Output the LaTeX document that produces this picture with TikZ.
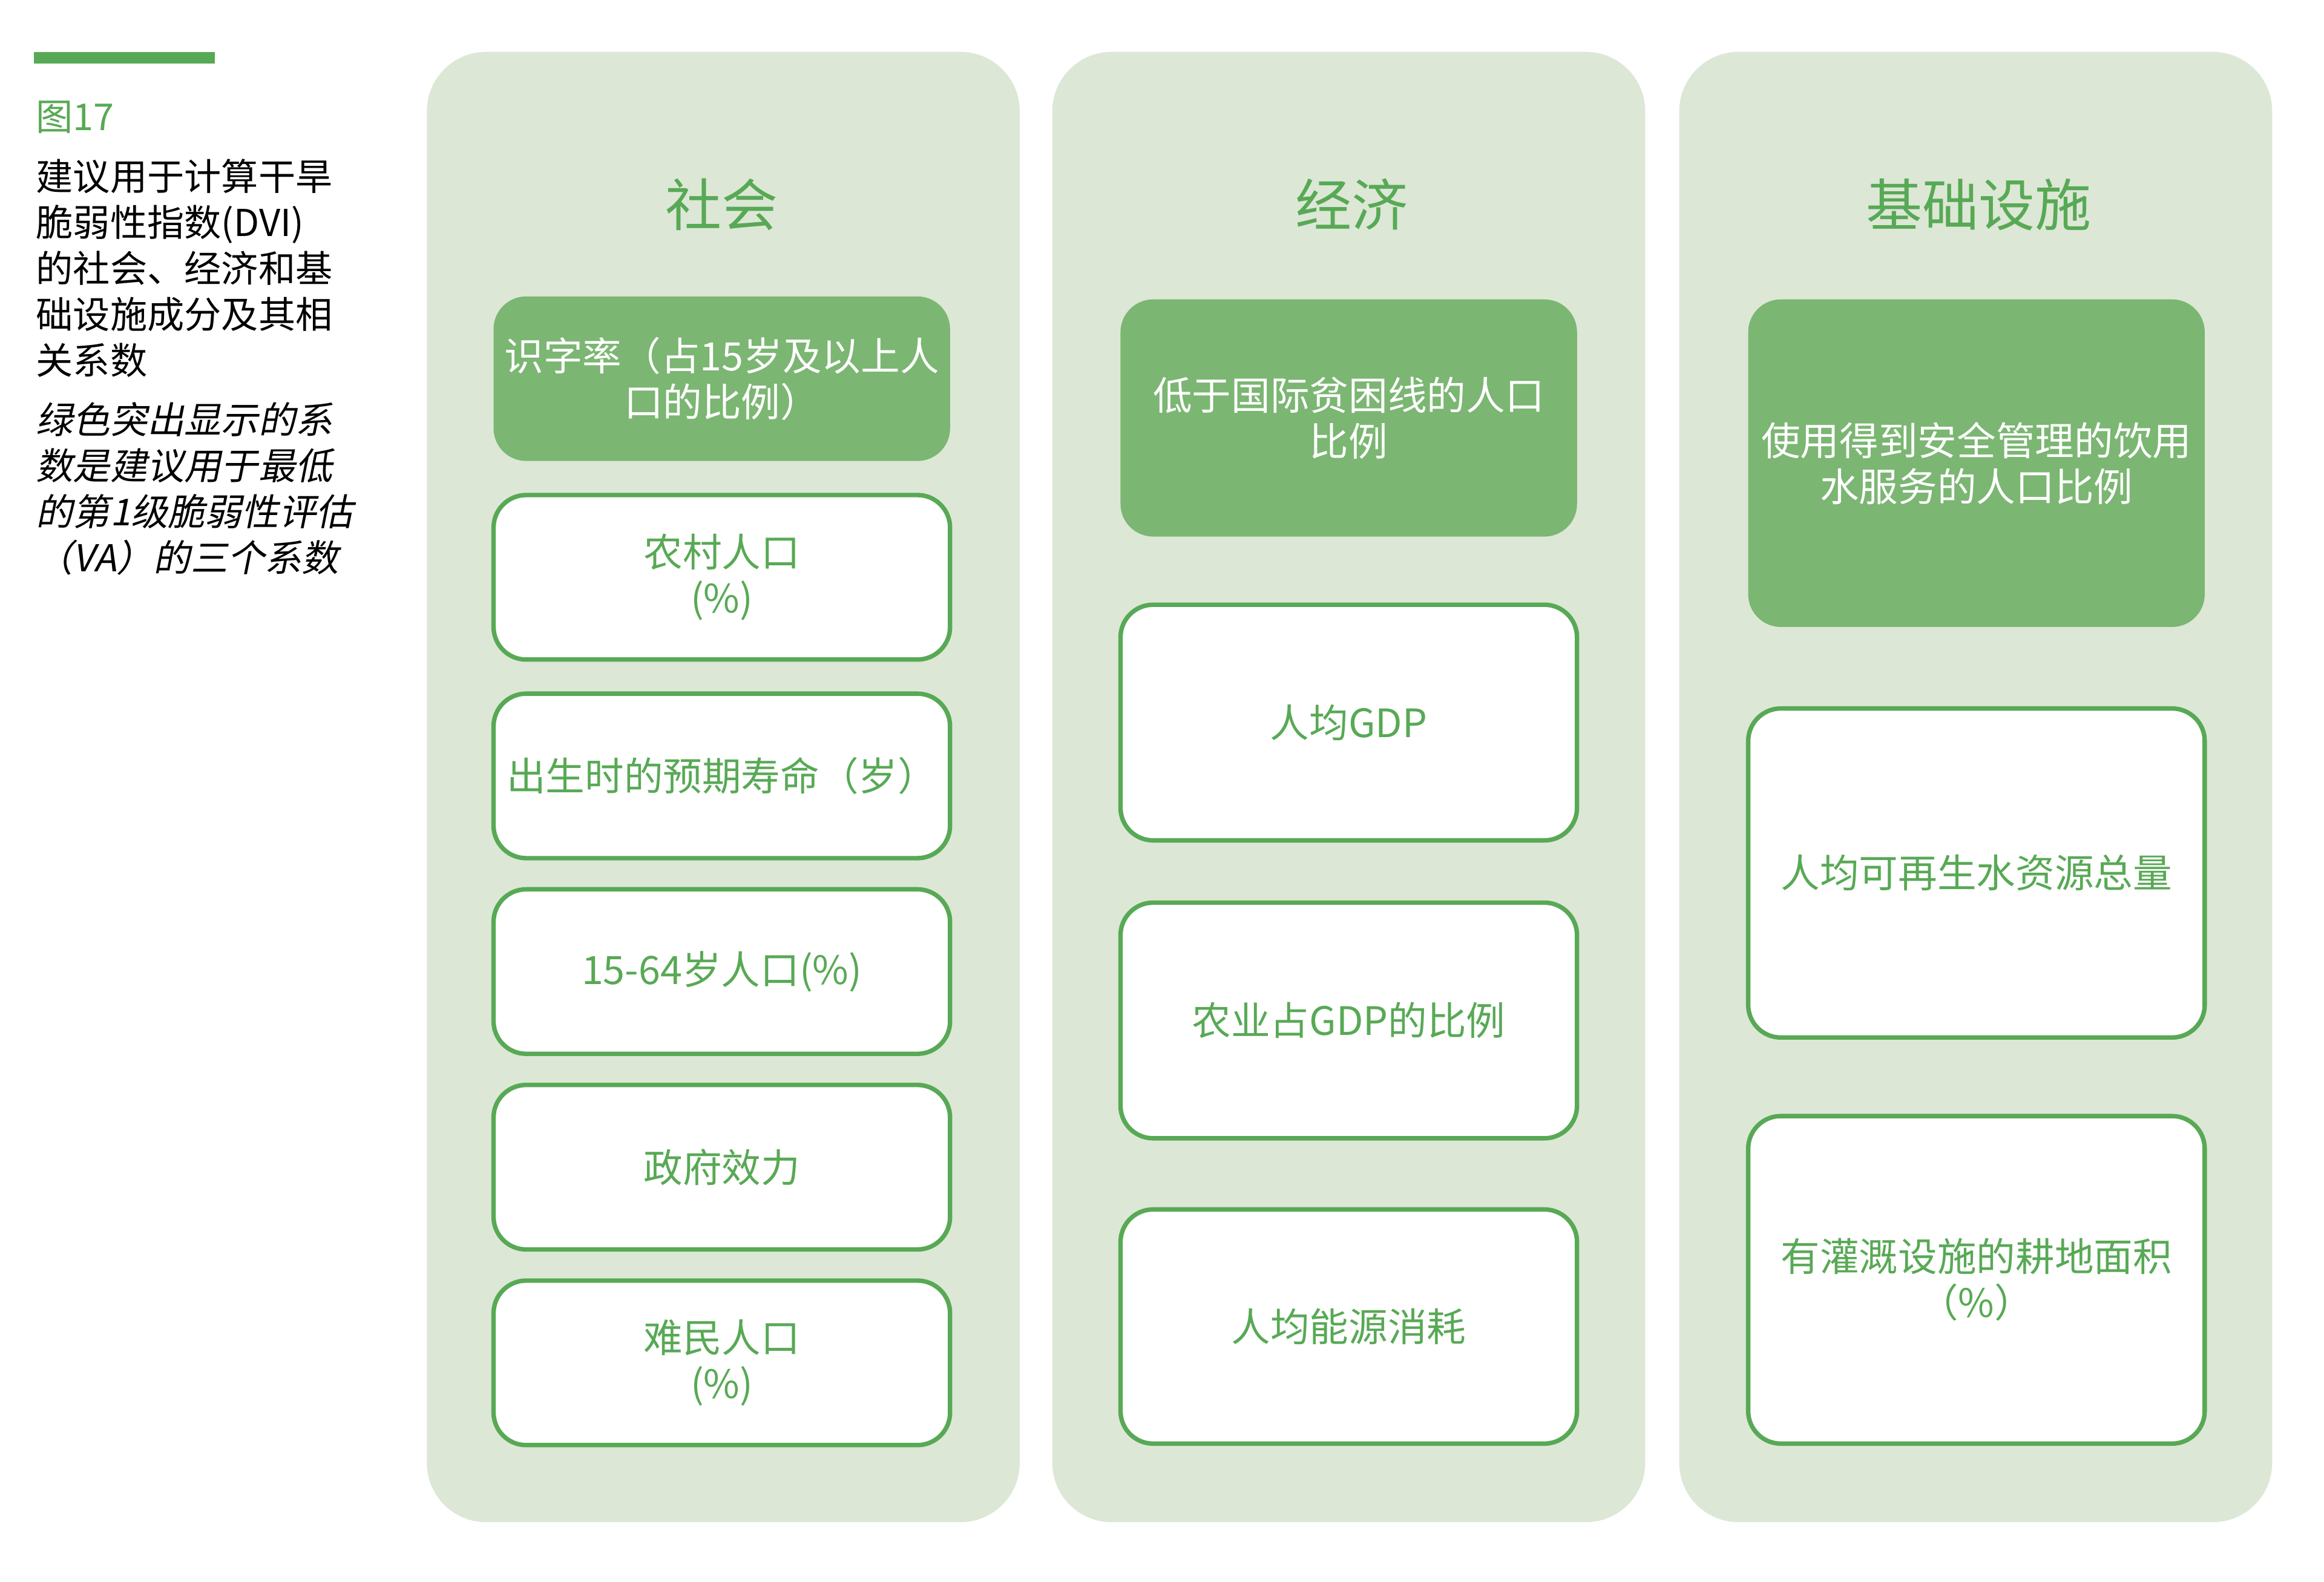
\documentclass[tikz,border=0pt]{standalone}
\usepackage{fontspec}
\setmainfont{Noto Sans CJK SC}
\newfontfamily\cjkit{Noto Sans CJK SC}[FakeSlant=0.2]
\definecolor{panelbg}{HTML}{DCE7D6}
\definecolor{boxfill}{HTML}{7BB672}
\definecolor{accent}{HTML}{58A955}
\newcommand{\boxfont}{\fontsize{13.2pt}{15.5pt}\selectfont}
\newcommand{\sidefont}{\fontsize{12.5pt}{15.5pt}\selectfont}
\begin{document}
\begin{tikzpicture}[x=0.5pt,y=-0.5pt,
  panel/.style={fill=panelbg, rounded corners=20pt, minimum width=200pt, minimum height=496pt, inner sep=0pt},
  coltitle/.style={text=accent, font=\fontsize{19pt}{23pt}\selectfont, inner sep=0pt},
  hibox/.style={fill=boxfill, rounded corners=11pt, text=white, align=center, minimum width=154pt, inner sep=1pt, font=\boxfont},
  plainbox/.style={draw=accent, line width=1.5pt, fill=white, rounded corners=11pt, text=accent, align=center, minimum width=154pt, inner sep=1pt, font=\boxfont},
  sidetext/.style={anchor=north west, inner sep=0pt, align=left, font=\sidefont}
]
\path[use as bounding box, fill=white] (0,0) rectangle (1568,1067);

% left caption
\fill[accent] (23,35) rectangle (145,43);
\node[anchor=west, inner sep=0pt, text=accent, font=\sidefont] (figlabel) at (24,79) {图17};
\node[sidetext] (caption) at (24,107) {建议用于计算干旱\\脆弱性指数(DVI)\\的社会、经济和基\\础设施成分及其相\\关系数};
\node[sidetext, font=\sidefont\cjkit] (note) at (24,271) {绿色突出显示的系\\数是建议用于最低\\的第1级脆弱性评估\\（VA）的三个系数};

% panels
\node[panel] (p1) at (488,531) {};
\node[panel] (p2) at (910,531) {};
\node[panel] (p3) at (1333,531) {};

\node[coltitle] (t1) at (487,138) {社会};
\node[coltitle] (t2) at (912,138) {经济};
\node[coltitle] (t3) at (1335,138) {基础设施};

% social
\node[hibox, minimum height=55.5pt] (s1) at (487,255.5) {识字率（占15岁及以上人\\口的比例）};
\node[plainbox, minimum height=55.5pt] (s2) at (487,389.5) {农村人口\\(\%)};
\node[plainbox, minimum height=55.5pt] (s3) at (487,523.5) {出生时的预期寿命（岁）};
\node[plainbox, minimum height=55.5pt] (s4) at (487,655.5) {15-64岁人口(\%)};
\node[plainbox, minimum height=55.5pt] (s5) at (487,787.5) {政府效力};
\node[plainbox, minimum height=55.5pt] (s6) at (487,919.5) {难民人口\\(\%)};

% economic
\node[hibox, minimum height=80pt] (e1) at (910,282) {低于国际贫困线的人口\\比例};
\node[plainbox, minimum height=79.5pt] (e2) at (910,487.5) {人均GDP};
\node[plainbox, minimum height=79.5pt] (e3) at (910,688.5) {农业占GDP的比例};
\node[plainbox, minimum height=79pt] (e4) at (910,895) {人均能源消耗};

% infrastructure
\node[hibox, minimum height=110.5pt] (i1) at (1333.5,312.5) {使用得到安全管理的饮用\\水服务的人口比例};
\node[plainbox, minimum height=111pt] (i2) at (1333.5,589) {人均可再生水资源总量};
\node[plainbox, minimum height=110.5pt] (i3) at (1333.5,863.5) {有灌溉设施的耕地面积\\（\%）};
\end{tikzpicture}
\end{document}
